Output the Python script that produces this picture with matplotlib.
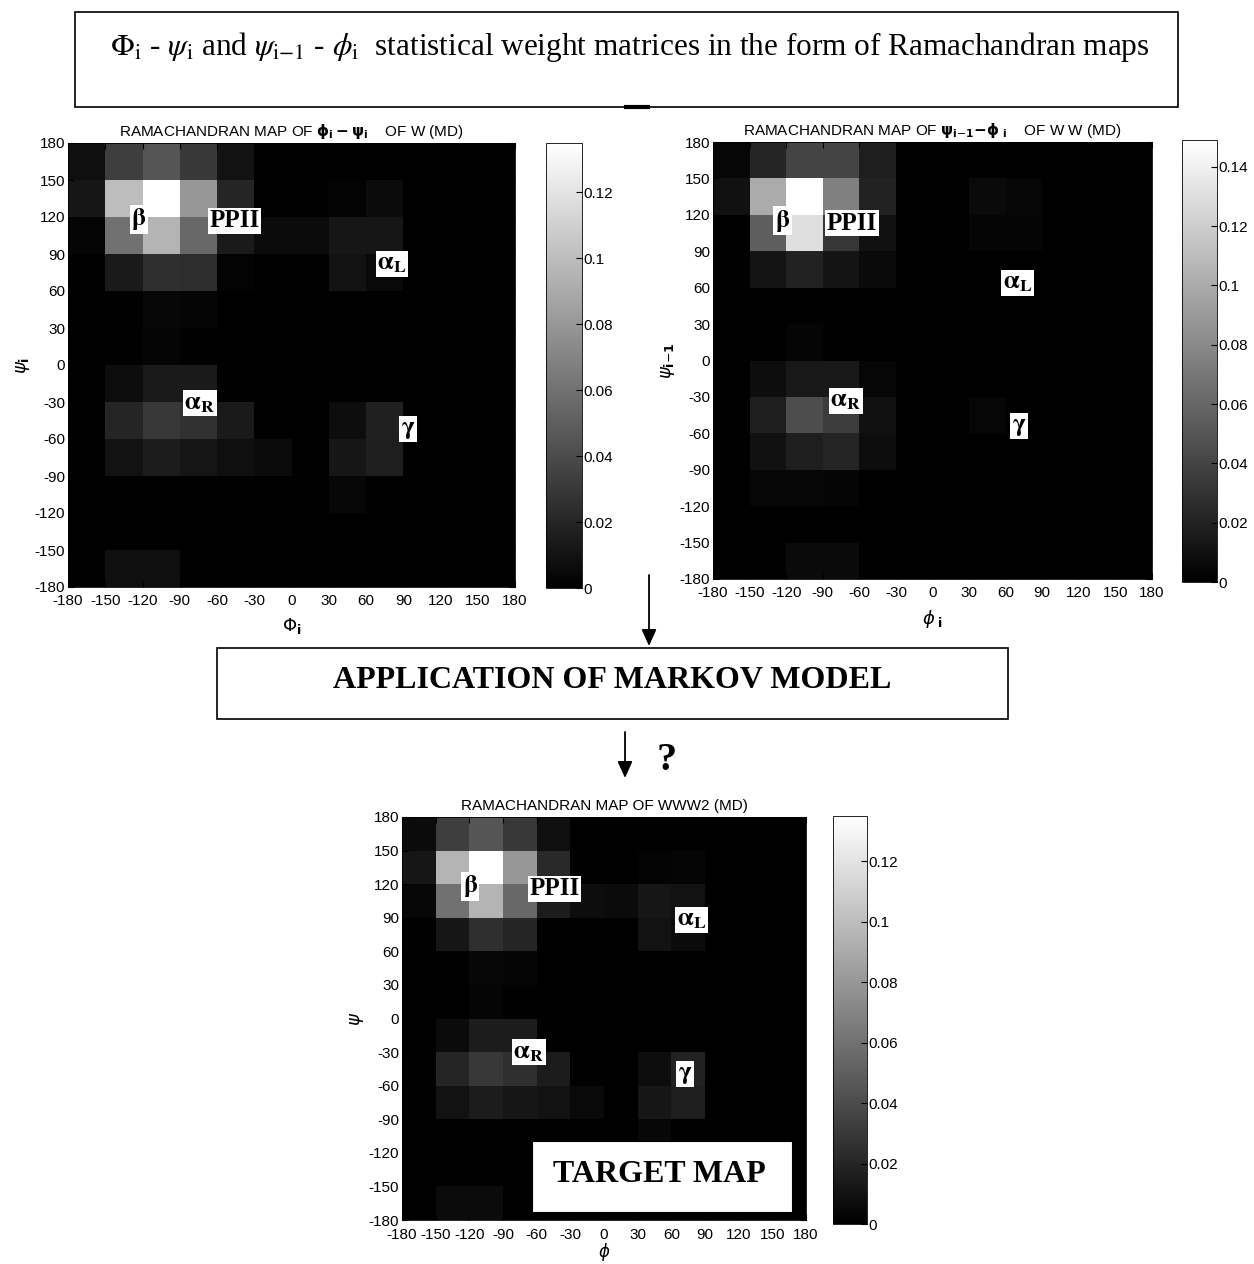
import numpy as np
import matplotlib
matplotlib.use("Agg")
import matplotlib.pyplot as plt
from matplotlib.patches import Rectangle

plt.rcParams['font.family'] = ['Liberation Sans', 'DejaVu Sans']
plt.rcParams['mathtext.fontset'] = 'dejavusans'

W, H = 1254, 1264
fig = plt.figure(figsize=(W / 100, H / 100), dpi=100)
fig.patch.set_facecolor('white')

# ---------------- data ----------------
phi_edges = list(range(-180, 181, 30))
psi_edges = list(range(-180, 181, 30))
tick_vals = list(range(-180, 181, 30))
tick_labels = [str(v) for v in tick_vals]

# rows listed from top (psi 150..180) to bottom (psi -180..-150)
# columns from phi -180..-150 to phi 150..180
map_phi_psi = [
    [0.008, 0.033, 0.045, 0.030, 0.010, 0.000, 0.000, 0.000, 0.000, 0, 0, 0],
    [0.012, 0.100, 0.140, 0.080, 0.020, 0.001, 0.001, 0.002, 0.006, 0, 0, 0],
    [0.003, 0.060, 0.095, 0.055, 0.014, 0.006, 0.006, 0.012, 0.012, 0, 0, 0],
    [0.001, 0.014, 0.025, 0.024, 0.002, 0.000, 0.000, 0.010, 0.005, 0, 0, 0],
    [0.000, 0.001, 0.004, 0.003, 0.000, 0.000, 0.000, 0.000, 0.000, 0, 0, 0],
    [0.000, 0.001, 0.003, 0.001, 0.000, 0.000, 0.000, 0.000, 0.000, 0, 0, 0],
    [0.000, 0.007, 0.014, 0.014, 0.001, 0.000, 0.000, 0.000, 0.000, 0, 0, 0],
    [0.001, 0.020, 0.030, 0.026, 0.014, 0.001, 0.000, 0.007, 0.017, 0, 0, 0],
    [0.001, 0.010, 0.015, 0.012, 0.008, 0.006, 0.000, 0.012, 0.016, 0, 0, 0],
    [0.000, 0.001, 0.001, 0.001, 0.001, 0.000, 0.000, 0.004, 0.001, 0, 0, 0],
    [0.000, 0.000, 0.000, 0.000, 0.000, 0.000, 0.000, 0.000, 0.000, 0, 0, 0],
    [0.001, 0.008, 0.008, 0.001, 0.000, 0.000, 0.000, 0.000, 0.000, 0, 0, 0],
]
map_psi_phi = [
    [0.004, 0.022, 0.040, 0.040, 0.018, 0.000, 0.000, 0.000, 0.000, 0, 0, 0],
    [0.010, 0.100, 0.155, 0.075, 0.020, 0.000, 0.000, 0.006, 0.004, 0, 0, 0],
    [0.001, 0.055, 0.130, 0.032, 0.010, 0.000, 0.000, 0.003, 0.003, 0, 0, 0],
    [0.001, 0.012, 0.020, 0.012, 0.006, 0.000, 0.000, 0.000, 0.000, 0, 0, 0],
    [0.000, 0.001, 0.001, 0.001, 0.000, 0.000, 0.000, 0.000, 0.000, 0, 0, 0],
    [0.000, 0.001, 0.003, 0.001, 0.000, 0.000, 0.000, 0.000, 0.000, 0, 0, 0],
    [0.000, 0.008, 0.014, 0.015, 0.004, 0.000, 0.000, 0.000, 0.000, 0, 0, 0],
    [0.000, 0.018, 0.045, 0.035, 0.010, 0.000, 0.000, 0.004, 0.000, 0, 0, 0],
    [0.000, 0.010, 0.018, 0.022, 0.008, 0.000, 0.000, 0.000, 0.000, 0, 0, 0],
    [0.000, 0.004, 0.004, 0.003, 0.000, 0.000, 0.000, 0.000, 0.000, 0, 0, 0],
    [0.000, 0.000, 0.000, 0.000, 0.000, 0.000, 0.000, 0.000, 0.000, 0, 0, 0],
    [0.000, 0.001, 0.006, 0.006, 0.000, 0.000, 0.000, 0.000, 0.000, 0, 0, 0],
]
map_www2 = [
    [0.006, 0.033, 0.045, 0.030, 0.008, 0.000, 0.000, 0.000, 0.000, 0, 0, 0],
    [0.012, 0.095, 0.140, 0.080, 0.022, 0.000, 0.000, 0.002, 0.003, 0, 0, 0],
    [0.004, 0.060, 0.095, 0.055, 0.015, 0.007, 0.006, 0.012, 0.010, 0, 0, 0],
    [0.001, 0.012, 0.025, 0.020, 0.001, 0.000, 0.000, 0.010, 0.006, 0, 0, 0],
    [0.000, 0.001, 0.004, 0.003, 0.000, 0.000, 0.000, 0.000, 0.000, 0, 0, 0],
    [0.000, 0.001, 0.003, 0.001, 0.000, 0.000, 0.000, 0.000, 0.000, 0, 0, 0],
    [0.000, 0.006, 0.015, 0.015, 0.001, 0.000, 0.000, 0.000, 0.000, 0, 0, 0],
    [0.001, 0.020, 0.030, 0.025, 0.015, 0.001, 0.000, 0.007, 0.018, 0, 0, 0],
    [0.001, 0.010, 0.015, 0.012, 0.010, 0.005, 0.000, 0.012, 0.016, 0, 0, 0],
    [0.000, 0.000, 0.000, 0.000, 0.000, 0.000, 0.000, 0.004, 0.000, 0, 0, 0],
    [0.000, 0.000, 0.000, 0.000, 0.000, 0.000, 0.000, 0.000, 0.000, 0, 0, 0],
    [0.000, 0.006, 0.006, 0.000, 0.000, 0.000, 0.000, 0.000, 0.000, 0, 0, 0],
]
vmax_list = [0.135, 0.149, 0.135]
cbar_ticks_1 = [0, 0.02, 0.04, 0.06, 0.08, 0.1, 0.12]
cbar_ticks_2 = [0, 0.02, 0.04, 0.06, 0.08, 0.1, 0.12, 0.14]
cbar_ticks_3 = [0, 0.02, 0.04, 0.06, 0.08, 0.1, 0.12]

titles = [
    r"RAMACHANDRAN MAP OF $\mathbf{\phi_i - \psi_i}$    OF W (MD)",
    r"RAMACHANDRAN MAP OF $\mathbf{\psi_{i\mathrm{-}1}\!-\!\phi_{\ i}}$    OF W W (MD)",
    "RAMACHANDRAN MAP OF WWW2 (MD)",
]
xlabels = [r"$\Phi_{\mathbf{i}}$", r"$\phi_{\ \mathbf{i}}$", r"$\phi$"]
ylabels = [r"$\psi_{\mathbf{i}}$", r"$\psi_{\mathbf{i\mathrm{-}1}}$", r"$\psi$"]

region_text = [r"$\mathbf{\beta}$", "PPII", r"$\mathbf{\alpha}_{\mathbf{L}}$",
               r"$\mathbf{\alpha}_{\mathbf{R}}$", r"$\mathbf{\gamma}$"]
region_pos = [
    [(-123, 118), (-46, 117), (81, 82), (-74, -31), (94, -52)],
    [(-123, 115), (-66, 113), (70, 64), (-71, -33), (71, -54)],
    [(-119, 118), (-44, 116), (78, 88), (-67, -30), (72, -50)],
]

# pixel layout helpers
def px_rect(x0, y0, x1, y1):
    return [x0 / W, 1 - y1 / H, (x1 - x0) / W, (y1 - y0) / H]

axes_px = [(68, 143, 515, 587), (713, 142, 1152, 579), (402, 817, 806, 1220)]
cbar_px = [(546, 143, 582, 588), (1182, 140, 1217, 582), (833, 816, 867, 1224)]
maps = [map_phi_psi, map_psi_phi, map_www2]
cticks = [cbar_ticks_1, cbar_ticks_2, cbar_ticks_3]
xtick_pads = [5, 5, 6]
xlabel_pads = [6, 6, -1]
xlabel_sizes = [13, 13, 12]

for k in range(3):
    ax = fig.add_axes(px_rect(*axes_px[k]))
    data = np.flipud(np.array(maps[k]))
    mesh = ax.pcolormesh(phi_edges, psi_edges, data, cmap='gray',
                         vmin=0, vmax=vmax_list[k], shading='flat')
    ax.set_xlim(-180, 180)
    ax.set_ylim(-180, 180)
    ax.set_xticks(tick_vals)
    ax.set_xticklabels(tick_labels)
    ax.set_yticks(tick_vals)
    ax.set_yticklabels(tick_labels)
    ax.tick_params(direction='in', length=4, labelsize=11, pad=2,
                   top=True, right=True, color='black')
    ax.tick_params(axis='x', pad=xtick_pads[k])
    for s in ax.spines.values():
        s.set_linewidth(0.6)
    ax.set_title(titles[k], fontsize=11, pad=5)
    ax.set_xlabel(xlabels[k], fontsize=xlabel_sizes[k], labelpad=xlabel_pads[k])
    ax.set_ylabel(ylabels[k], fontsize=13, labelpad=2)
    for txt, (x, y) in zip(region_text, region_pos[k]):
        ax.text(x, y, txt, ha='center', va='center', fontsize=18,
                fontfamily='Liberation Serif', fontweight='bold',
                math_fontfamily='stix', color='black',
                bbox=dict(boxstyle='square,pad=0.06', fc='white', ec='none'))
    cax = fig.add_axes(px_rect(*cbar_px[k]))
    cb = fig.colorbar(mesh, cax=cax)
    cb.set_ticks(cticks[k])
    cb.set_ticklabels([("%g" % t) for t in cticks[k]])
    cax.tick_params(direction='in', length=4, labelsize=11, pad=1)
    cb.outline.set_linewidth(0.6)

# ---------------- overlay (boxes, arrows, texts) ----------------
ov = fig.add_axes([0, 0, 1, 1], zorder=10)
ov.set_xlim(0, W)
ov.set_ylim(H, 0)
ov.axis('off')
ov.patch.set_alpha(0)

# top banner
ov.add_patch(Rectangle((75, 12), 1103, 95, fill=False, ec='black', lw=1.2))
ov.plot([626, 648], [107, 107], color='black', lw=3)
ov.text(630, 47,
        r"$\Phi_{\rm i}$ - $\psi_{\rm i}$ and $\psi_{\rm i{-}1}$ - $\phi_{\rm i}$  statistical weight matrices in the form of Ramachandran maps",
        ha='center', va='center', fontsize=22.5, fontfamily='Liberation Serif',
        math_fontfamily='stix')

# arrow 1
ov.annotate("", xy=(649, 646), xytext=(649, 575),
            arrowprops=dict(arrowstyle='-|>,head_length=1.0,head_width=0.45',
                            color='black', lw=1.3, shrinkA=0, shrinkB=0))
# Markov box
ov.add_patch(Rectangle((217, 648), 791, 71, fill=False, ec='black', lw=1.2))
ov.text(612, 680, "APPLICATION OF MARKOV MODEL", ha='center', va='center',
        fontsize=23, fontweight='bold', fontfamily='Liberation Serif')

# arrow 2 and question mark
ov.annotate("", xy=(625, 778), xytext=(625, 732),
            arrowprops=dict(arrowstyle='-|>,head_length=1.0,head_width=0.45',
                            color='black', lw=1.3, shrinkA=0, shrinkB=0))
ov.text(667, 760, "?", ha='center', va='center', fontsize=29,
        fontweight='bold', fontfamily='Liberation Serif')

# target map box
ov.add_patch(Rectangle((532, 1141), 260, 71, fc='white', ec='black', lw=0.8))
ov.text(659, 1175, "TARGET MAP", ha='center', va='center', fontsize=23,
        fontweight='bold', fontfamily='Liberation Serif')

fig.savefig("out.png", dpi=100, facecolor='white')
